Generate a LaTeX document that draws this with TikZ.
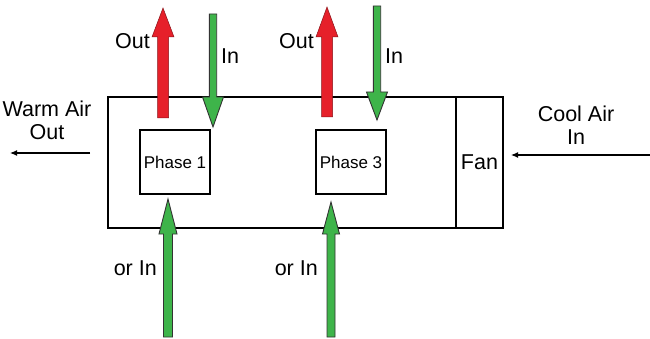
\documentclass[tikz,border=0pt]{standalone}
\usepackage{fontspec}
\setmainfont{Liberation Sans}
\usetikzlibrary{arrows.meta}
\definecolor{hotred}{RGB}{230,32,42}
\definecolor{airgreen}{RGB}{62,180,74}
\tikzset{
  label/.style={font=\fontsize{21.5}{23}\selectfont, inner sep=0pt},
  box/.style={draw, line width=1.6pt, inner sep=0pt, outer sep=0pt},
  phasebox/.style={box, line width=2pt, minimum width=70pt, minimum height=64pt,
    font=\fontsize{17}{19}\selectfont},
  hotarrow/.style={fill=hotred, draw=hotred!60!black, line width=0.5pt},
  coolarrow/.style={fill=airgreen, draw=black!80, line width=0.9pt},
  airflow/.style={line width=1.1pt, -{Latex[length=7pt,width=6pt]}}
}
% vertical block arrow: x, tail y, tip y, head-base y, half shaft, half head, style
\newcommand\vblockarrow[7]{%
  \filldraw[#7] (#1-#5,#2) -- (#1-#5,#4) -- (#1-#6,#4) -- (#1,#3)
    -- (#1+#6,#4) -- (#1+#5,#4) -- (#1+#5,#2) -- cycle;}
\begin{document}
\begin{tikzpicture}[x=1pt,y=-1pt]
\useasboundingbox (0,0) rectangle (650,339);

% housing and fan compartment
\node[box, minimum width=348pt, minimum height=131pt, anchor=north west] (housing) at (108,97) {};
\node[box, minimum width=47pt, minimum height=131pt, anchor=north west,
  font=\fontsize{21.5}{23}\selectfont] (fan) at (housing.north east) {Fan};

% phase-change modules
\node[phasebox] (phase1) at (175,162) {Phase 1};
\node[phasebox] (phase3) at (351,162) {Phase 3};

% hot outflow and cool inflow through the top
\vblockarrow{163}{118}{8}{37}{5.5}{11}{hotarrow}
\vblockarrow{213}{14}{127}{97}{3.7}{10.5}{coolarrow}
\vblockarrow{327}{117}{7}{37}{5.5}{11}{hotarrow}
\vblockarrow{377}{6}{120}{92}{3.7}{10.5}{coolarrow}

% alternative inflow from below
\vblockarrow{168}{337}{199}{234}{4.5}{9}{coolarrow}
\vblockarrow{331}{337}{202}{234}{4}{8.5}{coolarrow}

% labels on the block arrows
\node[label, anchor=east] (out1) at (150,41) {Out};
\node[label, anchor=west] (in1) at (221,56) {In};
\node[label, anchor=east] (out3) at (314,41) {Out};
\node[label, anchor=west] (in3) at (385,56) {In};
\node[label, anchor=east] (orin1) at (157,268) {or In};
\node[label, anchor=east] (orin3) at (318,268) {or In};

% air flow through the unit
\node[label, align=center] (warm) at (47,120) {Warm Air\\Out};
\node[label, align=center] (cool) at (576,125) {Cool Air\\In};
\coordinate (warmstart) at (90,153);
\coordinate (warmend) at (10,153);
\coordinate (coolstart) at (650,155);
\coordinate (coolend) at (511,155);
\draw[airflow] (warmstart) -- (warmend);
\draw[airflow] (coolstart) -- (coolend);
\end{tikzpicture}
\end{document}
